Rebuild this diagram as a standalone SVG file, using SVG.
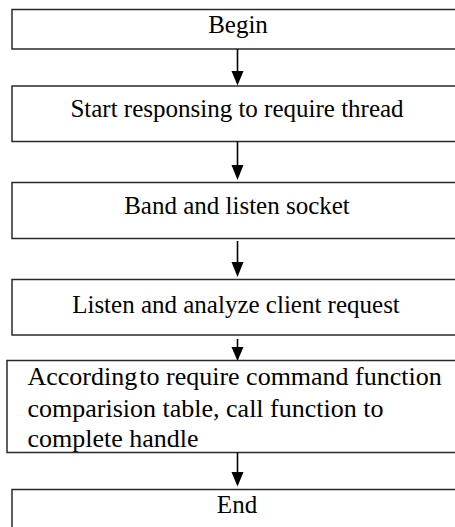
<svg xmlns="http://www.w3.org/2000/svg" width="455" height="527" viewBox="0 0 455 527">
<style>
.box{fill:#fff;stroke:#2a2a2a;stroke-width:1.5}
.t{font-family:"Liberation Serif","Times New Roman",serif;font-size:25px;fill:#000}
.big{font-size:26px}
.c{text-anchor:middle}
.ln{stroke:#000;stroke-width:1.6;fill:none}
.ah{fill:#000}
</style>
<rect width="455" height="527" fill="#fff"/>
<g id="n1"><rect class="box" x="12" y="9.5" width="460" height="39.5"/><text class="t c" x="238" y="33">Begin</text></g>
<g id="n2"><rect class="box" x="12" y="86" width="460" height="55.5"/><text class="t c" x="237" y="117">Start responsing to require thread</text></g>
<g id="n3"><rect class="box" x="12" y="182.5" width="460" height="56"/><text class="t c" x="237" y="214">Band and listen socket</text></g>
<g id="n4"><rect class="box" x="12" y="279.5" width="460" height="55.5"/><text class="t c" x="236" y="313">Listen and analyze client request</text></g>
<g id="n5"><rect class="box" x="7" y="360.5" width="460" height="92"/><text class="t big" x="27.5" y="385">According<tspan dx="2">to require command function</tspan></text><text class="t big" x="27.5" y="417">comparision table, call function to</text><text class="t big" x="27.5" y="447">complete handle</text></g>
<g id="n6"><rect class="box" x="12" y="489.5" width="460" height="60"/><text class="t c" x="237" y="513">End</text></g>
<g id="edges">
<path class="ln" d="M237.5 49V72"/><path class="ah" d="M231.5 71h12l-6 14.5z"/>
<path class="ln" d="M237.5 141.5V166"/><path class="ah" d="M231.5 165h12l-6 15z"/>
<path class="ln" d="M237.5 241V263"/><path class="ah" d="M231.5 262h12l-6 15z"/>
<path class="ln" d="M237.5 339V348"/><path class="ah" d="M231.5 347h12l-6 14z"/>
<path class="ln" d="M237.5 452.5V473"/><path class="ah" d="M231.5 472h12l-6 14.5z"/>
</g>
</svg>
